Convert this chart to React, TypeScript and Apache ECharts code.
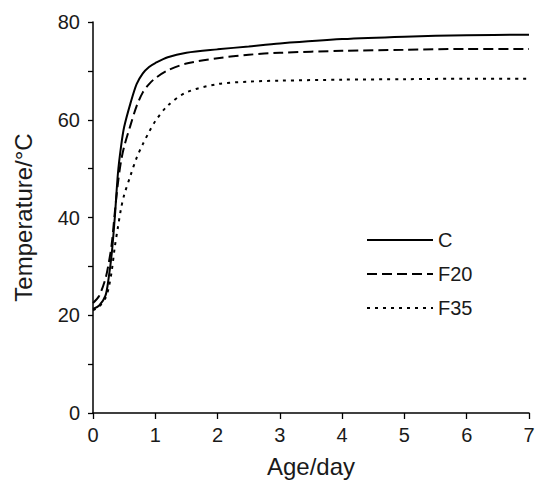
import React, { useEffect, useRef } from "react";
import * as echarts from "echarts";

const ages = [0, 0.1, 0.2, 0.25, 0.3, 0.35, 0.4, 0.45, 0.5, 0.6, 0.7, 0.8, 0.9, 1.0, 1.2, 1.5, 2, 2.5, 3, 4, 5, 6, 7];
const seriesC = [21.3, 22.0, 24.0, 27.5, 32.5, 40, 49, 54.5, 58.5, 63.3, 67.3, 69.5, 70.8, 71.6, 72.8, 73.7, 74.4, 75.0, 75.6, 76.5, 77.0, 77.3, 77.4];
const seriesF20 = [22.5, 24, 27.5, 30.5, 34.5, 41, 47, 51.5, 54.5, 58.8, 62.8, 65.6, 67.3, 68.5, 70.1, 71.5, 72.6, 73.3, 73.7, 74.1, 74.3, 74.5, 74.5];
const seriesF35 = [21.0, 21.8, 23.5, 25.5, 29, 34, 38, 41.8, 44.6, 48.5, 52.2, 55, 57.5, 59.7, 62.9, 65.6, 67.3, 67.8, 68.0, 68.2, 68.3, 68.4, 68.4];
const seriesNames = ["C", "F20", "F35"];
const lineTypes: any[] = ["solid", [10, 5], [3, 5]];

export default function App() {
  const ref = useRef<HTMLDivElement>(null);
  useEffect(() => {
    const chart = echarts.init(ref.current!, null, { renderer: "svg" });
    const all = [seriesC, seriesF20, seriesF35];
    const font = "'Liberation Sans', Arial, sans-serif";
    chart.setOption({
      animation: false,
      backgroundColor: "#fff",
      textStyle: { fontFamily: font },
      grid: { left: 93, top: 22, right: 9, bottom: 67, containLabel: false },
      legend: {
        orient: "vertical",
        left: 361,
        top: 225,
        itemWidth: 66,
        itemHeight: 14,
        itemGap: 14,
        itemStyle: { opacity: 0 },
        textStyle: { fontSize: 20, color: "#1a1a1a", fontFamily: font },
        data: seriesNames,
      },
      xAxis: {
        type: "value",
        min: 0,
        max: 7,
        interval: 1,
        name: "Age/day",
        nameLocation: "middle",
        nameGap: 41,
        nameTextStyle: { fontSize: 24, color: "#1a1a1a", fontFamily: font },
        axisLine: { show: true, onZero: false, lineStyle: { color: "#000", width: 1.5 } },
        axisTick: { show: true, length: 6, inside: false, lineStyle: { color: "#000", width: 1.3 } },
        axisLabel: { fontSize: 20, color: "#1a1a1a", margin: 12, fontFamily: font },
        splitLine: { show: false },
      },
      yAxis: {
        type: "value",
        min: 0,
        max: 80,
        interval: 10,
        name: "Temperature/°C",
        nameLocation: "middle",
        nameGap: 58,
        nameTextStyle: { fontSize: 24, color: "#1a1a1a", fontFamily: font },
        axisLine: { show: true, onZero: false, lineStyle: { color: "#000", width: 1.5 } },
        axisTick: { show: true, length: 5, inside: false, lineStyle: { color: "#000", width: 1.3 } },
        axisLabel: {
          fontSize: 20,
          color: "#1a1a1a",
          margin: 13,
          fontFamily: font,
          formatter: (v: number) => (v % 20 === 0 ? String(v) : ""),
        },
        splitLine: { show: false },
      },
      series: seriesNames.map((name, i) => ({
        name,
        type: "line",
        smooth: 0.3,
        symbol: "none",
        showSymbol: false,
        data: ages.map((a, j) => [a, all[i][j]]),
        lineStyle: { color: "#000", width: 2, type: lineTypes[i] },
        itemStyle: { color: "#000" },
      })),
    });
    return () => chart.dispose();
  }, []);
  return <div ref={ref} style={{ width: 538, height: 483, position: "absolute", left: 0, top: 0 }} />;
}
